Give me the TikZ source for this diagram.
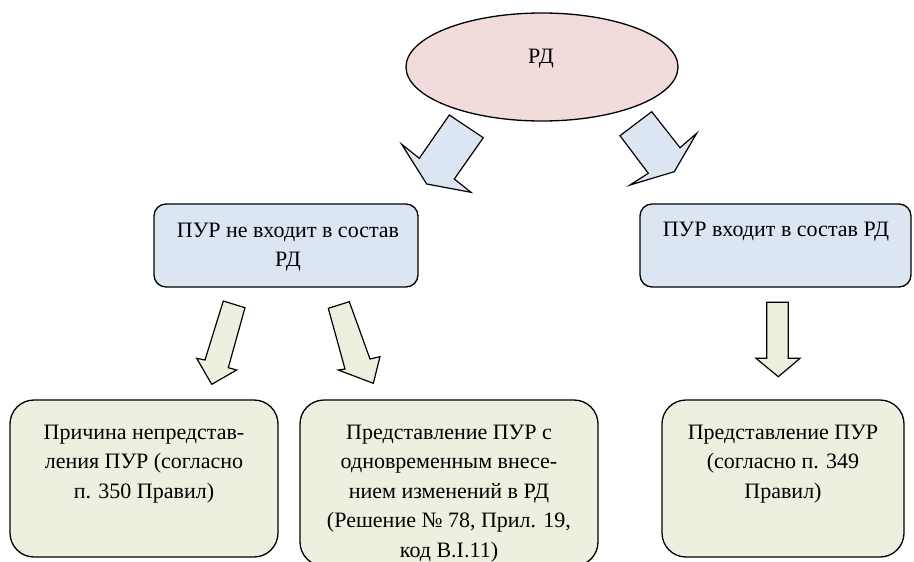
\documentclass[tikz,border=0pt]{standalone}
\usepackage{fontspec}
\setmainfont{Liberation Serif}
\usetikzlibrary{shapes.geometric}
\definecolor{pinkfill}{HTML}{F2DCDB}
\definecolor{bluefill}{HTML}{DCE6F2}
\definecolor{greenfill}{HTML}{EBF1DE}
\begin{document}
\begin{tikzpicture}[x=1pt,y=-1pt,line width=1.3pt,line join=miter,
  bluebox/.style={draw,fill=bluefill,rounded corners=12pt,inner sep=0pt},
  greenbox/.style={draw,fill=greenfill,rounded corners=24pt,inner sep=0pt},
  txt/.style={inner sep=0pt,align=center,font=\fontsize{22}{29.5}\selectfont},
  bluearrow/.style={draw,fill=bluefill,line width=1.2pt},
  greenarrow/.style={draw,fill=greenfill,line width=1.2pt}]
\useasboundingbox (0,0) rectangle (914,562);
% ellipse
\node[ellipse,draw,fill=pinkfill,minimum width=272pt,minimum height=108pt,inner sep=0pt] (rd) at (542,67) {};
\node[txt,anchor=north] (rdt) at (541,48) {РД};
% blue boxes
\node[bluebox,minimum width=264pt,minimum height=83pt] (b1) at (286,245.5) {};
\node[bluebox,minimum width=271pt,minimum height=83pt] (b2) at (775.5,245.5) {};
\node[txt,anchor=north] (b1t) at (288,222) {ПУР не входит в состав\\РД};
\node[txt,anchor=north] (b2t) at (776,221) {ПУР входит в состав РД};
% green boxes
\node[greenbox,minimum width=268pt,minimum height=157pt] (g1) at (144,478.5) {};
\node[greenbox,minimum width=298pt,minimum height=166pt] (g2) at (449,483) {};
\node[greenbox,minimum width=242pt,minimum height=157pt] (g3) at (783,478.5) {};
\node[txt,anchor=north] (g1t) at (144,424) {Причина непредстав-\\ления ПУР (согласно\\п. 350 Правил)};
\node[txt,anchor=north] (g2t) at (449,424) {Представление ПУР с\\одновременным внесе-\\нием изменений в РД\\(Решение № 78, Прил. 19,\\код В.I.11)};
\node[txt,anchor=north] (g3t) at (783,424) {Представление ПУР\\(согласно п. 349\\Правил)};
% block arrows
\draw[bluearrow] (449.3,115) -- (483.3,137.7) -- (454.3,179) -- (471,192.3) -- (426.7,184) -- (401.7,144.3) -- (419.3,158.3) -- cycle;
\draw[bluearrow] (620,135.7) -- (651.7,111.7) -- (680,147.7) -- (696.7,133.3) -- (674.3,171.7) -- (630,185) -- (648.3,173.3) -- cycle;
\draw[greenarrow] (223.3,301) -- (245,307.7) -- (228.3,367.7) -- (236.7,370) -- (211.7,384.3) -- (196.7,358.3) -- (205,360) -- cycle;
\draw[greenarrow] (328.3,308.3) -- (349.3,301.7) -- (370,359) -- (380,356.7) -- (373.3,383.3) -- (338.3,370) -- (345,369) -- cycle;
\draw[greenarrow] (766.7,302.3) -- (788.3,302.3) -- (788.3,358.3) -- (800,358.3) -- (778.3,376.7) -- (756,358.3) -- (766.7,358.3) -- cycle;
\end{tikzpicture}
\end{document}
